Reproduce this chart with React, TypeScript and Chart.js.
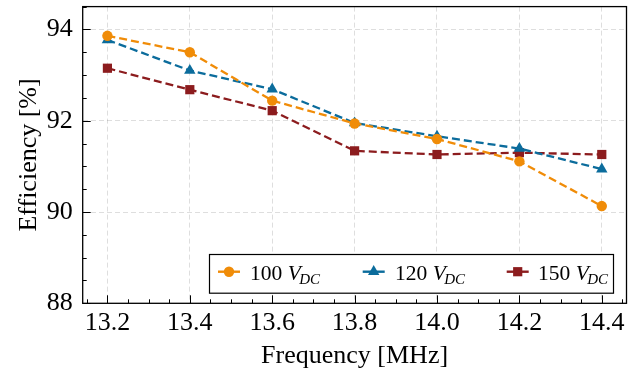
import React, { useEffect, useRef } from "react";
import { Chart, registerables } from "chart.js";

Chart.register(...registerables);

const frequencies = [13.2, 13.4, 13.6, 13.8, 14.0, 14.2, 14.4];
const eff100 = [93.86, 93.5, 92.44, 91.94, 91.6, 91.11, 90.13];
const eff120 = [93.77, 93.1, 92.69, 91.95, 91.66, 91.39, 90.94];
const eff150 = [93.15, 92.68, 92.22, 91.34, 91.26, 91.3, 91.26];

const seriesNames = ["100", "120", "150"];
const xTickValues = [13.2, 13.4, 13.6, 13.8, 14.0, 14.2, 14.4];
const xTickLabels = ["13.2", "13.4", "13.6", "13.8", "14.0", "14.2", "14.4"];
const yTickValues = [88, 90, 92, 94];
const yTickLabels = ["88", "90", "92", "94"];
const xMinorStep = 0.05;
const yMinorStep = 0.5;

const COLORS = ["#F08C08", "#0B6C9C", "#8C1C1E"];
const STYLES = ["circle", "triangle", "rect"];
const RADII = [5.2, 6.6, 6.5];
const FONT = "'Liberation Serif', 'Times New Roman', serif";

export default function App() {
  const ref = useRef<HTMLCanvasElement>(null);

  useEffect(() => {
    document.body.style.margin = "0";
    const canvas = ref.current!;
    const seriesData = [eff100, eff120, eff150];

    const framePlugin = {
      id: "frame",
      afterDraw(chart: any) {
        const ctx = chart.ctx as CanvasRenderingContext2D;
        const { left, right, top, bottom } = chart.chartArea;
        const xs = chart.scales.x;
        const ys = chart.scales.y;
        ctx.save();
        ctx.strokeStyle = "#000";
        ctx.lineWidth = 1;
        for (let v = Math.ceil(xs.min / xMinorStep) * xMinorStep; v <= xs.max + 1e-9; v += xMinorStep) {
          const major = xTickValues.some((t) => Math.abs(t - v) < 1e-6);
          const px = Math.round(xs.getPixelForValue(v)) + 0.5;
          const len = major ? 8 : 4;
          ctx.beginPath();
          ctx.moveTo(px, bottom);
          ctx.lineTo(px, bottom - len);
          ctx.stroke();
        }
        for (let v = Math.ceil(ys.min / yMinorStep) * yMinorStep; v <= ys.max + 1e-9; v += yMinorStep) {
          const major = yTickValues.some((t) => Math.abs(t - v) < 1e-6);
          const py = Math.round(ys.getPixelForValue(v)) + 0.5;
          const len = major ? 8 : 4;
          ctx.beginPath();
          ctx.moveTo(left, py);
          ctx.lineTo(left + len, py);
          ctx.stroke();
        }
        ctx.lineWidth = 1.3;
        ctx.strokeRect(left, top, right - left, bottom - top);

        ctx.fillStyle = "#000";
        ctx.font = `26px ${FONT}`;
        ctx.textAlign = "center";
        ctx.textBaseline = "alphabetic";
        ctx.fillText("Frequency [MHz]", (left + right) / 2, 363);
        ctx.save();
        ctx.translate(35.5, (top + bottom) / 2);
        ctx.rotate(-Math.PI / 2);
        ctx.fillText("Efficiency [%]", 0, 0);
        ctx.restore();

        const lx0 = 209, ly0 = 254, lx1 = 613, ly1 = 292.7;
        ctx.fillStyle = "#fff";
        ctx.fillRect(lx0, ly0, lx1 - lx0, ly1 - ly0);
        ctx.strokeStyle = "#000";
        ctx.lineWidth = 1.2;
        ctx.strokeRect(lx0 + 0.5, ly0 + 0.5, lx1 - lx0, ly1 - ly0);
        const lineStarts = [218, 362.7, 506.7];
        const textStarts = [250, 395, 538];
        const lineY = 271.7;
        const baseY = 279.5;
        for (let i = 0; i < 3; i++) {
          ctx.strokeStyle = COLORS[i];
          ctx.lineWidth = 2.4;
          ctx.setLineDash([]);
          ctx.beginPath();
          ctx.moveTo(lineStarts[i], lineY);
          ctx.lineTo(lineStarts[i] + 22, lineY);
          ctx.stroke();
          ctx.fillStyle = COLORS[i];
          ctx.beginPath();
          const cx = lineStarts[i] + 11;
          const r = RADII[i];
          if (STYLES[i] === "circle") {
            ctx.arc(cx, lineY, r, 0, Math.PI * 2);
          } else if (STYLES[i] === "triangle") {
            ctx.moveTo(cx, lineY - r);
            ctx.lineTo(cx + r * Math.sin((2 * Math.PI) / 3), lineY - r * Math.cos((2 * Math.PI) / 3));
            ctx.lineTo(cx - r * Math.sin((2 * Math.PI) / 3), lineY - r * Math.cos((2 * Math.PI) / 3));
            ctx.closePath();
          } else {
            const s = r * Math.SQRT1_2;
            ctx.rect(cx - s, lineY - s, 2 * s, 2 * s);
          }
          ctx.fill();
          ctx.fillStyle = "#000";
          ctx.textAlign = "left";
          ctx.font = `21.5px ${FONT}`;
          let tx = textStarts[i];
          const t1 = seriesNames[i] + " ";
          ctx.fillText(t1, tx, baseY);
          tx += ctx.measureText(t1).width;
          ctx.font = `italic 21.5px ${FONT}`;
          ctx.fillText("V", tx, baseY);
          tx += ctx.measureText("V").width - 1.5;
          ctx.font = `italic 15px ${FONT}`;
          ctx.fillText("DC", tx, baseY + 4);
        }
        ctx.restore();
      },
    };

    const chart = new Chart(canvas, {
      type: "line",
      data: {
        datasets: seriesData.map((vals, i) => ({
          label: seriesNames[i],
          data: vals.map((y, k) => ({ x: frequencies[k], y })),
          borderColor: COLORS[i],
          backgroundColor: COLORS[i],
          borderWidth: 2.3,
          borderDash: [8, 4],
          pointStyle: STYLES[i] as any,
          pointRadius: RADII[i],
          pointBorderWidth: 0,
          pointBackgroundColor: COLORS[i],
          tension: 0,
          clip: false as any,
        })),
      },
      options: {
        animation: false,
        responsive: false,
        devicePixelRatio: 1,
        layout: { padding: { left: 0, top: 3.3, right: 14.5, bottom: 0 } },
        plugins: { legend: { display: false }, tooltip: { enabled: false } },
        scales: {
          x: {
            type: "linear",
            min: 13.14,
            max: 14.46,
            afterBuildTicks: (scale: any) => {
              scale.ticks = xTickValues.map((v) => ({ value: v }));
            },
            afterFit: (scale: any) => {
              scale.height = 375 - 303.3;
              scale.paddingLeft = 0;
              scale.paddingRight = 0;
              scale.paddingTop = 0;
              scale.paddingBottom = 0;
            },
            ticks: {
              autoSkip: false,
              maxRotation: 0,
              minRotation: 0,
              padding: 4.5,
              color: "#000",
              font: { family: FONT, size: 26 },
              callback: (v: any) => {
                const idx = xTickValues.findIndex((t) => Math.abs(t - v) < 1e-6);
                return idx >= 0 ? xTickLabels[idx] : "";
              },
            },
            grid: { color: "rgba(0,0,0,0.13)", lineWidth: 1, drawTicks: false },
            border: { display: false, dash: [5, 3] },
          },
          y: {
            type: "linear",
            min: 88,
            max: 94.5,
            afterBuildTicks: (scale: any) => {
              scale.ticks = yTickValues.map((v) => ({ value: v }));
            },
            afterFit: (scale: any) => {
              scale.width = 82.7;
              scale.paddingLeft = 0;
              scale.paddingRight = 0;
              scale.paddingTop = 0;
              scale.paddingBottom = 0;
            },
            ticks: {
              padding: 10,
              color: "#000",
              font: { family: FONT, size: 26 },
              callback: (v: any) => {
                const idx = yTickValues.findIndex((t) => Math.abs(t - v) < 1e-6);
                return idx >= 0 ? yTickLabels[idx] : "";
              },
            },
            grid: { color: "rgba(0,0,0,0.13)", lineWidth: 1, drawTicks: false },
            border: { display: false, dash: [5, 3] },
          },
        },
      },
      plugins: [framePlugin],
    } as any);

    return () => chart.destroy();
  }, []);

  return (
    <div style={{ width: 641, height: 375 }}>
      <canvas ref={ref} width={641} height={375} style={{ display: "block", width: 641, height: 375 }} />
    </div>
  );
}
